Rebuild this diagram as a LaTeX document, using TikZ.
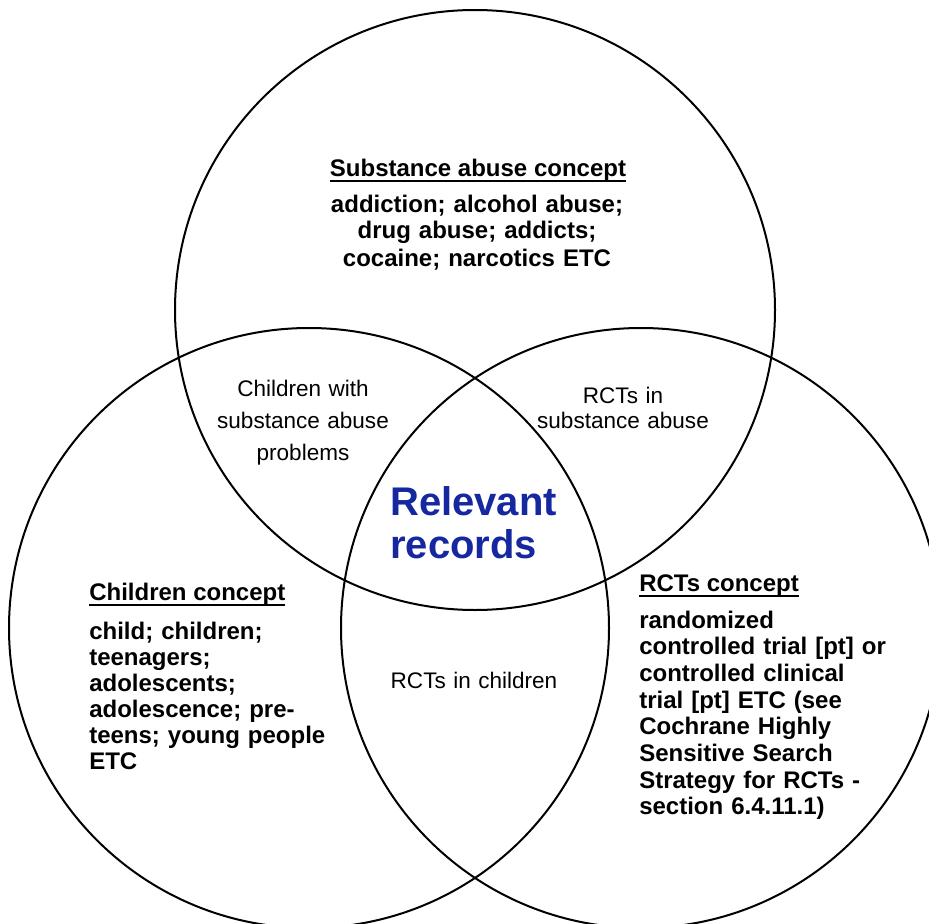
\documentclass[tikz,border=0pt]{standalone}
\usepackage{fontspec}
\setmainfont{Liberation Sans}
\definecolor{relblue}{RGB}{22,40,160}
\newcommand{\thickul}[1]{\setbox0\hbox{#1}\rlap{\rule[-4.4pt]{\wd0}{1.5pt}}\box0}
\begin{document}
\begin{tikzpicture}[x=0.75pt,y=-0.75pt,
  ring/.style={draw=black, line width=1.5pt},
  conctitle/.style={font=\bfseries\fontsize{18}{20}\selectfont, inner sep=0pt},
  concbody/.style={font=\bfseries\fontsize{18}{20}\selectfont, inner sep=0pt, text width=240pt, align=left, anchor=base west},
  overlap/.style={font=\fontsize{16.9}{24}\selectfont, inner sep=0pt, text width=200pt, align=center, anchor=base},
  core/.style={font=\bfseries\fontsize{30}{32.5}\selectfont, text=relblue, inner sep=0pt, text width=200pt, align=left, anchor=base west}
]
\useasboundingbox (0,0) rectangle (929,924);
\begin{scope}
  \clip (0,0) rectangle (929,924);
  \draw[ring] (475,310) circle[radius=300];
  \draw[ring] (309,628) circle[radius=300];
  \draw[ring] (641,628) circle[radius=300];
\end{scope}

% Substance abuse concept
\node[conctitle, anchor=base] (subT) at (478,176) {\thickul{Substance abuse concept}};
\node[concbody, anchor=base, align=center, font=\bfseries\fontsize{18}{20.25}\selectfont] (subB) at (477,212)
  {addiction; alcohol abuse;\\ drug abuse; addicts;\\ cocaine; narcotics ETC};

% Children concept
\node[conctitle, anchor=base west] (chT) at (89,600) {\thickul{Children concept}};
\node[concbody, font=\bfseries\fontsize{18}{19.6}\selectfont] (chB) at (89,639)
  {child; children;\\ teenagers;\\ adolescents;\\ adolescence; pre-\\ teens; young people\\ ETC};

% RCTs concept
\node[conctitle, anchor=base west] (rcT) at (639,591) {\thickul{RCTs concept}};
\node[concbody] (rcB) at (639,628)
  {randomized\\ controlled trial [pt] or\\ controlled clinical\\ trial [pt] ETC (see\\ Cochrane Highly\\ Sensitive Search\\ Strategy for RCTs -\\ section 6.4.11.1)};

% Overlaps
\node[overlap] (chsub) at (303,396) {Children with\\ substance abuse\\ problems};
\node[overlap, font=\fontsize{16.9}{18.75}\selectfont] (rcsub) at (623,403) {RCTs in\\ substance abuse};
\node[overlap] (rcch) at (474,688) {RCTs in children};

% Centre
\node[core] (rel) at (390,515) {Relevant\\ records};
\end{tikzpicture}
\end{document}
